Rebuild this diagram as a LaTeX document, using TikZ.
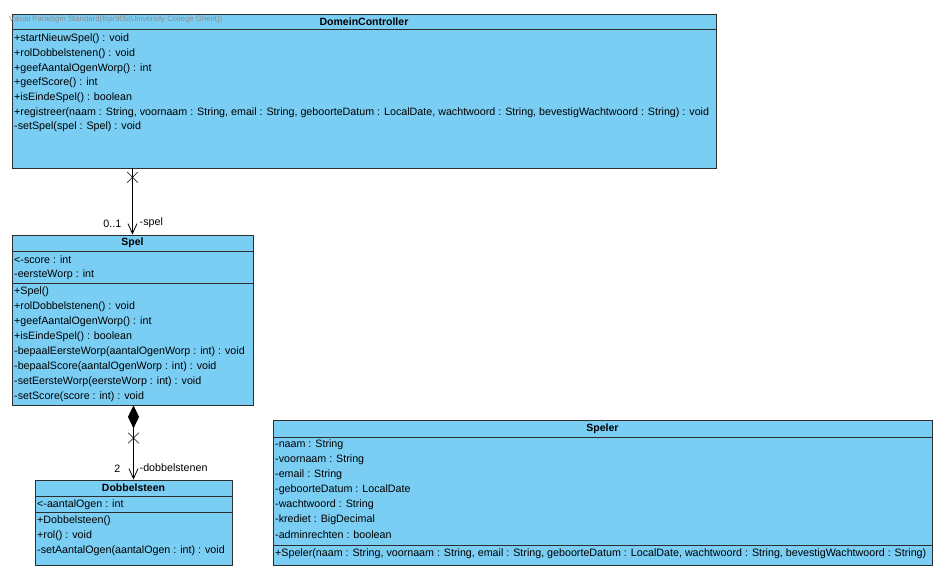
\documentclass[tikz,border=0pt]{standalone}
\usepackage{fontspec}
\setmainfont{Liberation Sans}
\usetikzlibrary{arrows.meta, shapes.misc}

\definecolor{vpfill}{RGB}{122,206,243}
\definecolor{vpline}{RGB}{45,45,45}

\tikzset{
    cls/.style = {draw = vpline, fill = vpfill, line width = 0.8pt, inner sep = 0pt},
    ttl/.style = {font = \fontsize{10.5}{12}\selectfont\bfseries, inner sep = 0pt},
    mbr/.style = {anchor = west, font = \fontsize{10.7}{12}\selectfont, inner sep = 0pt},
    lbl/.style = {font = \fontsize{10.7}{12}\selectfont, inner sep = 0pt},
    sep/.style = {draw = vpline, line width = 0.8pt},
    assoc/.style = {line width = 0.8pt, -{Straight Barb[length = 10pt, width = 9pt, line width = 0.8pt]}},
    compo/.style = {line width = 0.8pt, {Diamond[length = 23pt, width = 11pt, fill = black]}-{Straight Barb[length = 10pt, width = 9pt, line width = 0.8pt]}},
    xmark/.style = {cross out, draw, line width = 0.6pt, minimum size = 10pt, inner sep = 0pt}
}

\begin{document}
\begin{tikzpicture}[x = 1pt, y = -1pt]
    \useasboundingbox (0, 0) rectangle (945, 580);

    % DomeinController
    \node[cls, minimum width = 704, minimum height = 154] (dc) at (364, 91) {};
    \draw[sep] (12, 29) -- (716, 29);
    \node[ttl] (dctitle) at (364, 21.5) {DomeinController};
    \node[mbr, text = black!45, font = \fontsize{7.8}{9}\selectfont] (wm) at (9, 19.5)
        {Visual Paradigm Standard(fspr905(University College Ghent))};
    \foreach \t [count = \i] in {{+startNieuwSpel() : void}, {+rolDobbelstenen() : void},
        {+geefAantalOgenWorp() : int}, {+geefScore() : int}, {+isEindeSpel() : boolean},
        {+registreer(naam : String, voornaam : String, email : String, geboorteDatum : LocalDate, wachtwoord : String, bevestigWachtwoord : String) : void},
        {-setSpel(spel : Spel) : void}} {
        \node[mbr] (dcm\i) at (14, {39 + (\i-1)*14.7}) {\t};
    }

    % Spel
    \node[cls, minimum width = 241, minimum height = 170] (spel) at (132.5, 320) {};
    \draw[sep] (12, 251) -- (253, 251);
    \draw[sep] (12, 283) -- (253, 283);
    \node[ttl] (speltitle) at (132.5, 243) {Spel};
    \foreach \t [count = \i] in {{<-score : int}, {-eersteWorp : int}} {
        \node[mbr] (spela\i) at (14, {260 + (\i-1)*15}) {\t};
    }
    \foreach \t [count = \i] in {{+Spel()}, {+rolDobbelstenen() : void},
        {+geefAantalOgenWorp() : int}, {+isEindeSpel() : boolean},
        {-bepaalEersteWorp(aantalOgenWorp : int) : void}, {-bepaalScore(aantalOgenWorp : int) : void},
        {-setEersteWorp(eersteWorp : int) : void}, {-setScore(score : int) : void}} {
        \node[mbr] (spelm\i) at (14, {292 + (\i-1)*15}) {\t};
    }

    % Dobbelsteen
    \node[cls, minimum width = 197, minimum height = 85] (dobbel) at (133.5, 522.5) {};
    \draw[sep] (35, 496) -- (232, 496);
    \draw[sep] (35, 512) -- (232, 512);
    \node[ttl] (dobbeltitle) at (133.5, 488) {Dobbelsteen};
    \node[mbr] (dobbela1) at (37, 505) {<-aantalOgen : int};
    \foreach \t [count = \i] in {{+Dobbelsteen()}, {+rol() : void},
        {-setAantalOgen(aantalOgen : int) : void}} {
        \node[mbr] (dobbelm\i) at (37, {521 + (\i-1)*15}) {\t};
    }

    % Speler
    \node[cls, minimum width = 659, minimum height = 145] (speler) at (602.5, 492.5) {};
    \draw[sep] (273, 437) -- (932, 437);
    \draw[sep] (273, 545) -- (932, 545);
    \node[ttl] (spelertitle) at (602.5, 428.5) {Speler};
    \foreach \t [count = \i] in {{-naam : String}, {-voornaam : String}, {-email : String},
        {-geboorteDatum : LocalDate}, {-wachtwoord : String}, {-krediet : BigDecimal},
        {-adminrechten : boolean}} {
        \node[mbr] (spelera\i) at (275, {445 + (\i-1)*15}) {\t};
    }
    \node[mbr] (spelerm1) at (275, 554)
        {+Speler(naam : String, voornaam : String, email : String, geboorteDatum : LocalDate, wachtwoord : String, bevestigWachtwoord : String)};

    % associaties
    \draw[assoc] (spel.north |- dc.south) -- node[xmark, pos = 0.134] (x1) {} (spel.north);
    \node[lbl, anchor = east] (mult1) at ([shift = {(-11, -11)}]spel.north) {0..1};
    \node[lbl, anchor = west] (role1) at ([shift = {(7, -12)}]spel.north) {-spel};

    \draw[compo] (dobbel.north |- spel.south) -- node[xmark, pos = 0.44] (x2) {} (dobbel.north);
    \node[lbl, anchor = east] (mult2) at ([shift = {(-13, -11)}]dobbel.north) {2};
    \node[lbl, anchor = west] (role2) at ([shift = {(6, -12)}]dobbel.north) {-dobbelstenen};
\end{tikzpicture}
\end{document}
